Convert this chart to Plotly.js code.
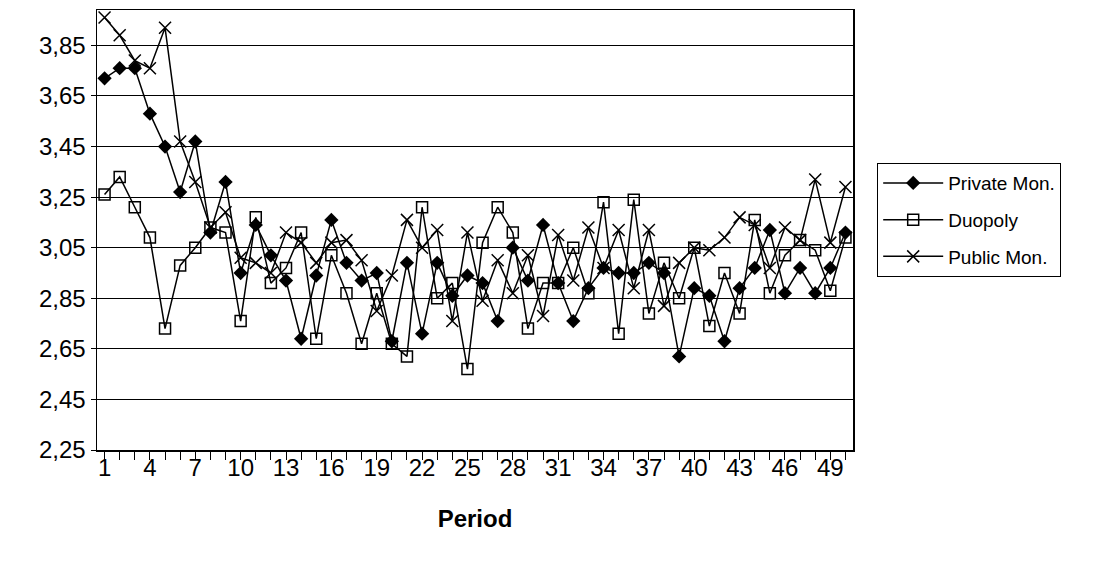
<!DOCTYPE html>
<html>
<head>
<meta charset="utf-8">
<script src="https://cdn.plot.ly/plotly-3.0.1.min.js"></script>
<style>body{margin:0;background:#fff}#chart{width:1098px;height:562px}</style>
</head>
<body>
<div id="chart"></div>
<script>
const periods = Array.from({length: 50}, (_, i) => i + 1);

const privateMon = [
    3.72, 3.76, 3.76, 3.58, 3.45, 3.27, 3.47, 3.11, 3.31, 2.95,
    3.14, 3.02, 2.92, 2.69, 2.94, 3.16, 2.99, 2.92, 2.95, 2.68,
    2.99, 2.71, 2.99, 2.86, 2.94, 2.91, 2.76, 3.05, 2.92, 3.14,
    2.91, 2.76, 2.89, 2.97, 2.95, 2.95, 2.99, 2.95, 2.62, 2.89,
    2.86, 2.68, 2.89, 2.97, 3.12, 2.87, 2.97, 2.87, 2.97, 3.11];

const duopoly = [
    3.26, 3.33, 3.21, 3.09, 2.73, 2.98, 3.05, 3.13, 3.11, 2.76,
    3.17, 2.91, 2.97, 3.11, 2.69, 3.02, 2.87, 2.67, 2.87, 2.67,
    2.62, 3.21, 2.85, 2.91, 2.57, 3.07, 3.21, 3.11, 2.73, 2.91,
    2.91, 3.05, 2.87, 3.23, 2.71, 3.24, 2.79, 2.99, 2.85, 3.05,
    2.74, 2.95, 2.79, 3.16, 2.87, 3.02, 3.08, 3.04, 2.88, 3.09];

const publicMon = [
    3.96, 3.89, 3.79, 3.76, 3.92, 3.47, 3.31, 3.13, 3.19, 3.01,
    2.99, 2.95, 3.11, 3.07, 2.99, 3.07, 3.08, 3.00, 2.80, 2.94,
    3.16, 3.05, 3.12, 2.76, 3.11, 2.84, 3.00, 2.87, 3.02, 2.78,
    3.10, 2.92, 3.13, 2.97, 3.12, 2.89, 3.12, 2.82, 2.99, 3.05,
    3.04, 3.09, 3.17, 3.14, 2.97, 3.13, 3.08, 3.32, 3.07, 3.29];

const yTicks = [2.25, 2.45, 2.65, 2.85, 3.05, 3.25, 3.45, 3.65, 3.85];

const line = {color: '#000', width: 1.5};

const traces = [
    {x: periods, y: privateMon, name: 'Private Mon.', legendgroup: 'a', mode: 'lines+markers', line,
        marker: {symbol: 'diamond', size: 11, color: '#000'}},
    {x: periods, y: duopoly, name: 'Duopoly', legendgroup: 'b', mode: 'lines+markers', line,
        marker: {symbol: 'square-open', size: 11, color: '#000', line: {width: 1.5}}},
    {x: periods, y: publicMon, name: 'Public Mon.', legendgroup: 'c', mode: 'lines+markers', line,
        marker: {symbol: 'x-thin-open', size: 12, color: '#000', line: {width: 1.5}}},
];

const layout = {
    width: 1098, height: 562,
    margin: {l: 97, r: 245, t: 10, b: 112},
    paper_bgcolor: '#fff', plot_bgcolor: '#fff',
    separators: ',.',
    font: {family: 'Liberation Sans, Arial, sans-serif', size: 24, color: '#000'},
    showlegend: true,
    legend: {x: 1.032, y: 0.652, xanchor: 'left', yanchor: 'top',
        bordercolor: '#000', borderwidth: 1, font: {size: 19},
        itemwidth: 60, tracegroupgap: 9},
    xaxis: {
        range: [0.5, 50.5], tick0: 1, dtick: 3, ticks: 'outside', ticklen: 8,
        tickcolor: '#000', showgrid: false, zeroline: false, ticklabelstandoff: -12,
        showline: true, linecolor: '#000', linewidth: 1.5, mirror: true,
        minor: {dtick: 1, tick0: 1, ticks: 'outside', ticklen: 8, tickcolor: '#000', showgrid: false},
        title: {text: '<b>Period</b>', font: {size: 24}, standoff: 30},
    },
    yaxis: {
        range: [2.25, 3.99], tickvals: yTicks, tickformat: '.2f',
        ticks: 'outside', ticklen: 5, tickcolor: '#000',
        showgrid: true, gridcolor: '#000', gridwidth: 1, zeroline: false,
        showline: true, linecolor: '#000', linewidth: 1.5, mirror: true,
    },
};

Plotly.newPlot('chart', traces, layout, {staticPlot: true});
</script>
</body>
</html>
